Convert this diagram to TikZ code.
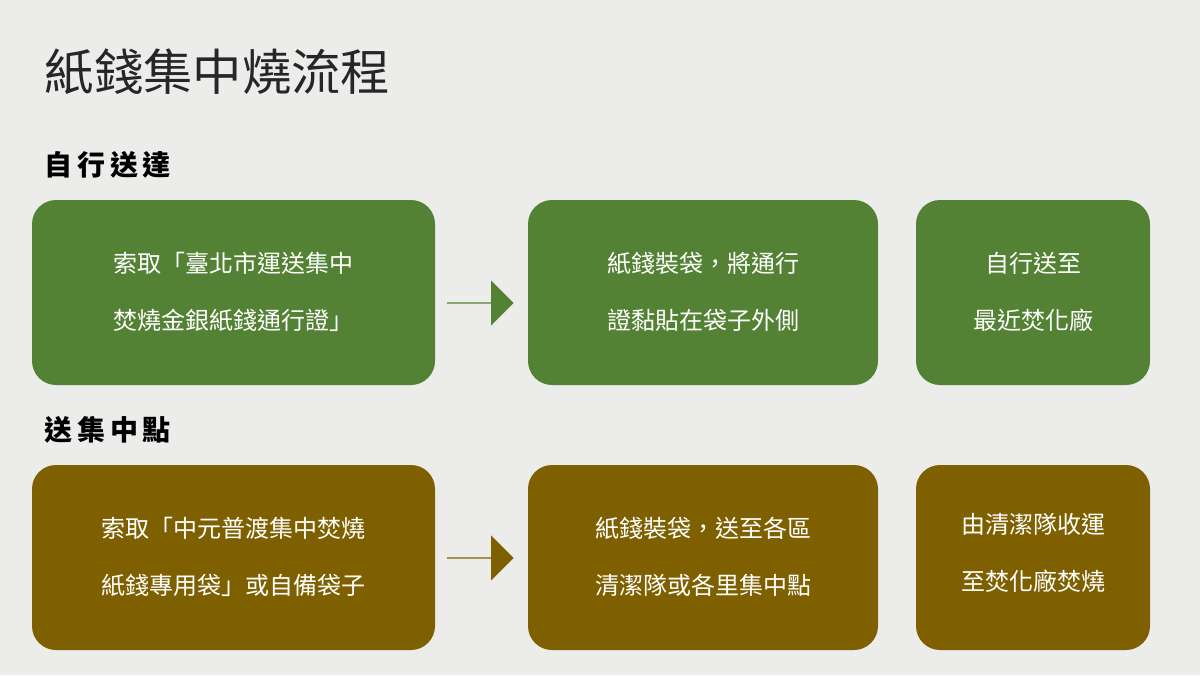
\documentclass[tikz,border=0pt]{standalone}
\usepackage{fontspec}
\setmainfont{Noto Sans CJK TC}
\newfontfamily\cjkb{Noto Sans CJK TC}[BoldFont={* Bold}]
\usetikzlibrary{shapes.arrows}
\definecolor{grn}{HTML}{548235}
\definecolor{brn}{HTML}{7F6000}
\definecolor{bg}{HTML}{ECECEA}
\tikzset{
 box/.style={rounded corners=18pt, text=white, align=center, font=\fontsize{18}{43}\selectfont, inner sep=0pt},
 sub/.style={anchor=west, font=\fontsize{21}{24}\selectfont\bfseries},
 blk/.style={single arrow, single arrow head extend=6pt, minimum height=50pt, minimum width=34pt, inner sep=0pt, shape border rotate=0}
}
\begin{document}
\begin{tikzpicture}[x=0.75pt,y=-0.75pt]
\fill[bg] (0,0) rectangle (1200,675);
\useasboundingbox (0,0) rectangle (1200,675);
\node[anchor=west, font=\fontsize{37}{40}\selectfont, text=black!85] (title) at (40,72) {紙錢集中燒流程};
\node[sub] (s1) at (40,165) {自\,行\,送\,達};
\node[sub] (s2) at (40,430) {送\,集\,中\,點};
% row 1
\fill[grn, rounded corners=18pt] (32,200) rectangle (435,385);
\node[box] (a1) at (233,292) {索取「臺北市運送集中\\焚燒金銀紙錢通行證」};
\fill[grn, rounded corners=18pt] (528,200) rectangle (878,385);
\node[box] (a2) at (703,292) {紙錢裝袋，將通行\\證黏貼在袋子外側};
\fill[grn, rounded corners=18pt] (916,200) rectangle (1150,385);
\node[box] (a3) at (1033,292) {自行送至\\最近焚化廠};
\node[blk, fill=grn] (ar1) at (480,303) {};
% row 2
\fill[brn, rounded corners=18pt] (32,465) rectangle (435,650);
\node[box] (b1) at (233,557) {索取「中元普渡集中焚燒\\紙錢專用袋」或自備袋子};
\fill[brn, rounded corners=18pt] (528,465) rectangle (878,650);
\node[box] (b2) at (703,557) {紙錢裝袋，送至各區\\清潔隊或各里集中點};
\fill[brn, rounded corners=18pt] (916,465) rectangle (1150,650);
\node[box] (b3) at (1033,553) {由清潔隊收運\\至焚化廠焚燒};
\node[blk, fill=brn] (ar2) at (480,558) {};
\end{tikzpicture}
\end{document}
